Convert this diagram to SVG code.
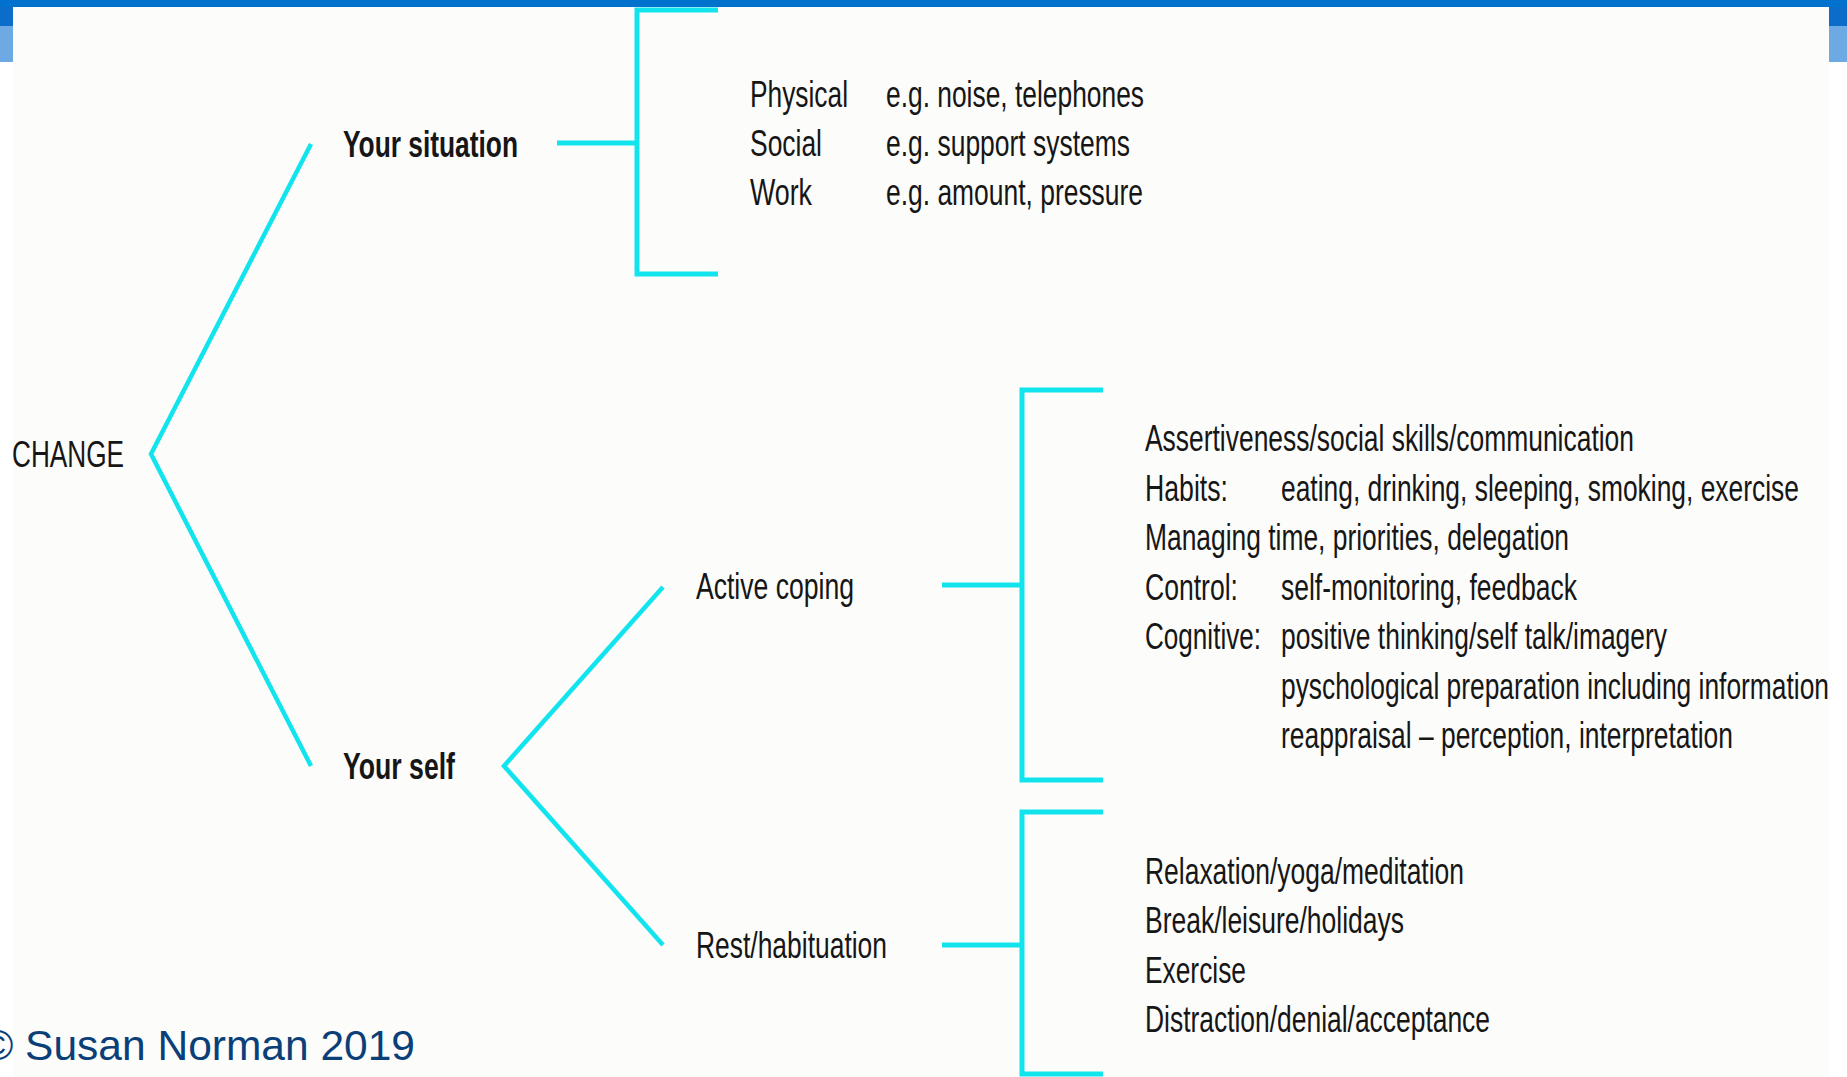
<svg xmlns="http://www.w3.org/2000/svg" width="1847" height="1077" viewBox="0 0 1847 1077">
<style>
text{font-family:"Liberation Sans",Arial,sans-serif;font-size:36px;fill:#161616}
.b{font-weight:bold}
.ln{fill:none;stroke:#12E4EE;stroke-width:4.5;stroke-linecap:butt;stroke-linejoin:miter}
.br{fill:none;stroke:#12E4EE;stroke-width:5}
.cp{font-size:42.5px;fill:#0A3F78}
</style>
<rect x="0" y="0" width="1847" height="1077" fill="#FFFFFF"/>
<rect x="13" y="7" width="1816" height="1070" fill="#FCFCFA"/>
<rect x="0" y="0" width="1847" height="7" fill="#0071CD"/>
<rect x="0" y="7" width="13" height="19" fill="#0B6CC9"/>
<rect x="0" y="26" width="13" height="36" fill="#6DAAE3"/>
<rect x="1829" y="7" width="18" height="19" fill="#0B6CC9"/>
<rect x="1829" y="26" width="18" height="36" fill="#6DAAE3"/>

<g id="connectors">
<polyline class="ln" points="311,144 151,454 311,766"/>
<polyline class="ln" points="663,587 504,766 663,945"/>
<line class="br" x1="557" y1="143" x2="637" y2="143"/>
<polyline class="br" points="718,10 637,10 637,274 718,274"/>
<line class="br" x1="942" y1="585" x2="1022" y2="585"/>
<polyline class="br" points="1103,390 1022,390 1022,780 1103,780"/>
<line class="br" x1="942" y1="945" x2="1022" y2="945"/>
<polyline class="br" points="1103,812 1022,812 1022,1074 1103,1074"/>
</g>

<g transform="scale(0.73 1)">
<g id="change"><text x="16.44" y="467" textLength="153.42" lengthAdjust="spacingAndGlyphs">CHANGE</text></g>
<g id="your-situation"><text class="b" x="469.86" y="157" textLength="239.73" lengthAdjust="spacingAndGlyphs">Your situation</text></g>
<g id="situation-items">
<text x="1027.40" y="107" textLength="134.25" lengthAdjust="spacingAndGlyphs">Physical</text>
<text x="1213.70" y="107" textLength="353.42" lengthAdjust="spacingAndGlyphs">e.g. noise, telephones</text>
<text x="1027.40" y="156" textLength="98.63" lengthAdjust="spacingAndGlyphs">Social</text>
<text x="1213.70" y="156" textLength="334.25" lengthAdjust="spacingAndGlyphs">e.g. support systems</text>
<text x="1027.40" y="205" textLength="84.93" lengthAdjust="spacingAndGlyphs">Work</text>
<text x="1213.70" y="205" textLength="352.05" lengthAdjust="spacingAndGlyphs">e.g. amount, pressure</text>
</g>
<g id="your-self"><text class="b" x="469.86" y="779" textLength="153.42" lengthAdjust="spacingAndGlyphs">Your self</text></g>
<g id="active-coping"><text x="953.42" y="599" textLength="216.44" lengthAdjust="spacingAndGlyphs">Active coping</text></g>
<g id="active-items">
<text x="1568.49" y="451" textLength="669.86" lengthAdjust="spacingAndGlyphs">Assertiveness/social skills/communication</text>
<text x="1568.49" y="501" textLength="113.70" lengthAdjust="spacingAndGlyphs">Habits:</text>
<text x="1754.79" y="501" textLength="709.59" lengthAdjust="spacingAndGlyphs">eating, drinking, sleeping, smoking, exercise</text>
<text x="1568.49" y="550" textLength="580.82" lengthAdjust="spacingAndGlyphs">Managing time, priorities, delegation</text>
<text x="1568.49" y="600" textLength="127.40" lengthAdjust="spacingAndGlyphs">Control:</text>
<text x="1754.79" y="600" textLength="405.48" lengthAdjust="spacingAndGlyphs">self-monitoring, feedback</text>
<text x="1568.49" y="649" textLength="158.90" lengthAdjust="spacingAndGlyphs">Cognitive:</text>
<text x="1754.79" y="649" textLength="528.77" lengthAdjust="spacingAndGlyphs">positive thinking/self talk/imagery</text>
<text x="1754.79" y="699" textLength="750.68" lengthAdjust="spacingAndGlyphs">pyschological preparation including information</text>
<text x="1754.79" y="748" textLength="619.18" lengthAdjust="spacingAndGlyphs">reappraisal – perception, interpretation</text>
</g>
<g id="rest"><text x="953.42" y="958" textLength="261.64" lengthAdjust="spacingAndGlyphs">Rest/habituation</text></g>
<g id="rest-items">
<text x="1568.49" y="884" textLength="436.99" lengthAdjust="spacingAndGlyphs">Relaxation/yoga/meditation</text>
<text x="1568.49" y="933" textLength="354.79" lengthAdjust="spacingAndGlyphs">Break/leisure/holidays</text>
<text x="1568.49" y="983" textLength="138.36" lengthAdjust="spacingAndGlyphs">Exercise</text>
<text x="1568.49" y="1032" textLength="472.60" lengthAdjust="spacingAndGlyphs">Distraction/denial/acceptance</text>
</g>
</g>
<g id="copyright"><text class="cp" x="-18" y="1060">© Susan Norman 2019</text></g>
</svg>
